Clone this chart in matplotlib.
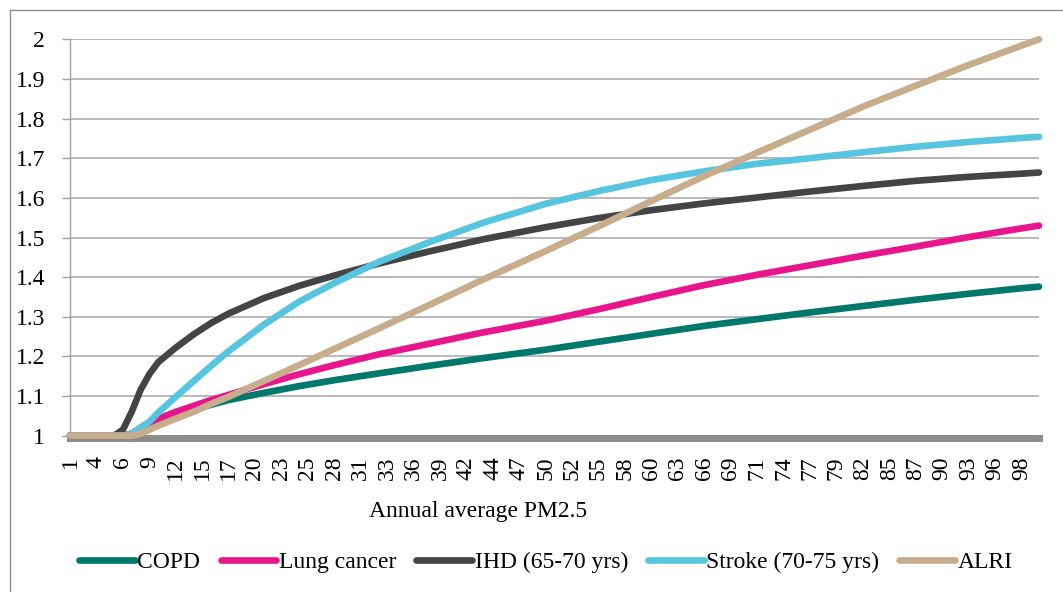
import matplotlib
matplotlib.use("Agg")
import matplotlib.pyplot as plt
from matplotlib.lines import Line2D

# PM2.5 values (categories run 1, 1.9, 2.8 ... 100)
pm = [1.0, 5.5, 6.4, 7.3, 8.2, 9.1, 10.0, 11.8, 13.6, 15.4, 17.2, 20.8, 24.4, 28.0,
      32.5, 37.9, 43.3, 49.6, 55.0, 60.4, 65.8, 71.2, 76.6, 82.0, 87.4, 92.8, 98.2, 100.0]

copd = [1.0, 1.0, 1.0, 1.005, 1.015, 1.027, 1.037, 1.052, 1.066, 1.078, 1.09, 1.108, 1.125, 1.14,
        1.157, 1.177, 1.196, 1.217, 1.237, 1.257, 1.277, 1.294, 1.311, 1.327, 1.343, 1.358, 1.372, 1.376]
lung = [1.0, 1.0, 1.0, 1.005, 1.02, 1.033, 1.043, 1.06, 1.075, 1.09, 1.103, 1.13, 1.155, 1.178,
        1.205, 1.233, 1.261, 1.29, 1.319, 1.35, 1.38, 1.406, 1.43, 1.454, 1.477, 1.501, 1.523, 1.53]
ihd = [1.0, 1.0, 1.015, 1.06, 1.115, 1.155, 1.185, 1.222, 1.255, 1.284, 1.308, 1.347, 1.378, 1.404,
       1.434, 1.466, 1.496, 1.526, 1.549, 1.569, 1.586, 1.601, 1.616, 1.63, 1.643, 1.653, 1.661, 1.664]
stroke = [1.0, 1.0, 1.0, 1.005, 1.02, 1.035, 1.058, 1.098, 1.137, 1.176, 1.213, 1.28, 1.338, 1.385,
          1.438, 1.49, 1.538, 1.585, 1.617, 1.645, 1.667, 1.686, 1.70, 1.715, 1.729, 1.741, 1.751, 1.754]
alri = [1.0, 1.0, 1.0, 1.0, 1.005, 1.015, 1.025, 1.043, 1.06, 1.08, 1.098, 1.138, 1.178, 1.219,
        1.27, 1.332, 1.395, 1.466, 1.528, 1.592, 1.655, 1.714, 1.772, 1.83, 1.883, 1.935, 1.984, 2.0]

series = [("COPD", copd, "#00786B"),
          ("Lung cancer", lung, "#E8158C"),
          ("IHD (65-70 yrs)", ihd, "#444444"),
          ("Stroke (70-75 yrs)", stroke, "#57C5DF"),
          ("ALRI", alri, "#C7AD8C")]

xtick_labels = ["1", "4", "6", "9", "12", "15", "17", "20", "23", "25", "28", "31", "33", "36",
                "39", "42", "44", "47", "50", "52", "55", "58", "60", "63", "66", "69", "71", "74",
                "77", "79", "82", "85", "87", "90", "93", "96", "98"]
yticks = [1, 1.1, 1.2, 1.3, 1.4, 1.5, 1.6, 1.7, 1.8, 1.9, 2]
ytick_labels = ["1", "1.1", "1.2", "1.3", "1.4", "1.5", "1.6", "1.7", "1.8", "1.9", "2"]

plt.rcParams['font.family'] = ['Liberation Serif', 'DejaVu Serif']

fig = plt.figure(figsize=(10.63, 5.92), dpi=100)
ax = fig.add_axes([70/1063, 1-435.7/592, 969/1063, (435.7-39.3)/592])

for name, vals, col in series:
    ax.plot(pm, vals, color=col, lw=4.8, label=name, solid_capstyle='round',
            solid_joinstyle='round', zorder=3, clip_on=False)

ax.set_xlim(1, 100)
ax.set_ylim(1, 2)
ax.set_yticks(yticks)
ax.set_yticklabels(ytick_labels)
# category labels shown every 3rd category (step 0.9)
ax.set_xticks([1 + 2.7 * i for i in range(len(xtick_labels))])
ax.set_xticklabels(xtick_labels)
ax.tick_params(axis='y', length=6, width=1, color='#A0A0A0', pad=12, labelsize=17)
ax.tick_params(axis='x', length=0, pad=13, labelsize=17, labelrotation=90)
ax.grid(axis='y', color='#A6A6A6', lw=1.1)
ax.set_axisbelow(True)
for s in ['top', 'right']:
    ax.spines[s].set_visible(False)
ax.spines['left'].set_color('#A0A0A0')
ax.spines['left'].set_linewidth(1)
ax.spines['bottom'].set_color('#8C8C8C')
ax.spines['bottom'].set_linewidth(5)
ax.spines['bottom'].set_position(('outward', 2))
ax.spines['bottom'].set_zorder(2)

fig.text(478/1063, 1-512/592, "Annual average PM2.5", ha='center', va='center', fontsize=17)

fig.legend(loc='center', bbox_to_anchor=(546/1063, 1-562/592), ncol=5, frameon=False,
           fontsize=17, handlelength=2.35, handletextpad=0.12, columnspacing=0.85,
           borderaxespad=0)

# outer chart border
fig.add_artist(Line2D([10/1063, 10/1063], [0, 1-9.5/592], color='#8C8C8C', lw=1))
fig.add_artist(Line2D([10/1063, 1], [1-9.5/592, 1-9.5/592], color='#8C8C8C', lw=1))

fig.savefig("out.png", dpi=100)
